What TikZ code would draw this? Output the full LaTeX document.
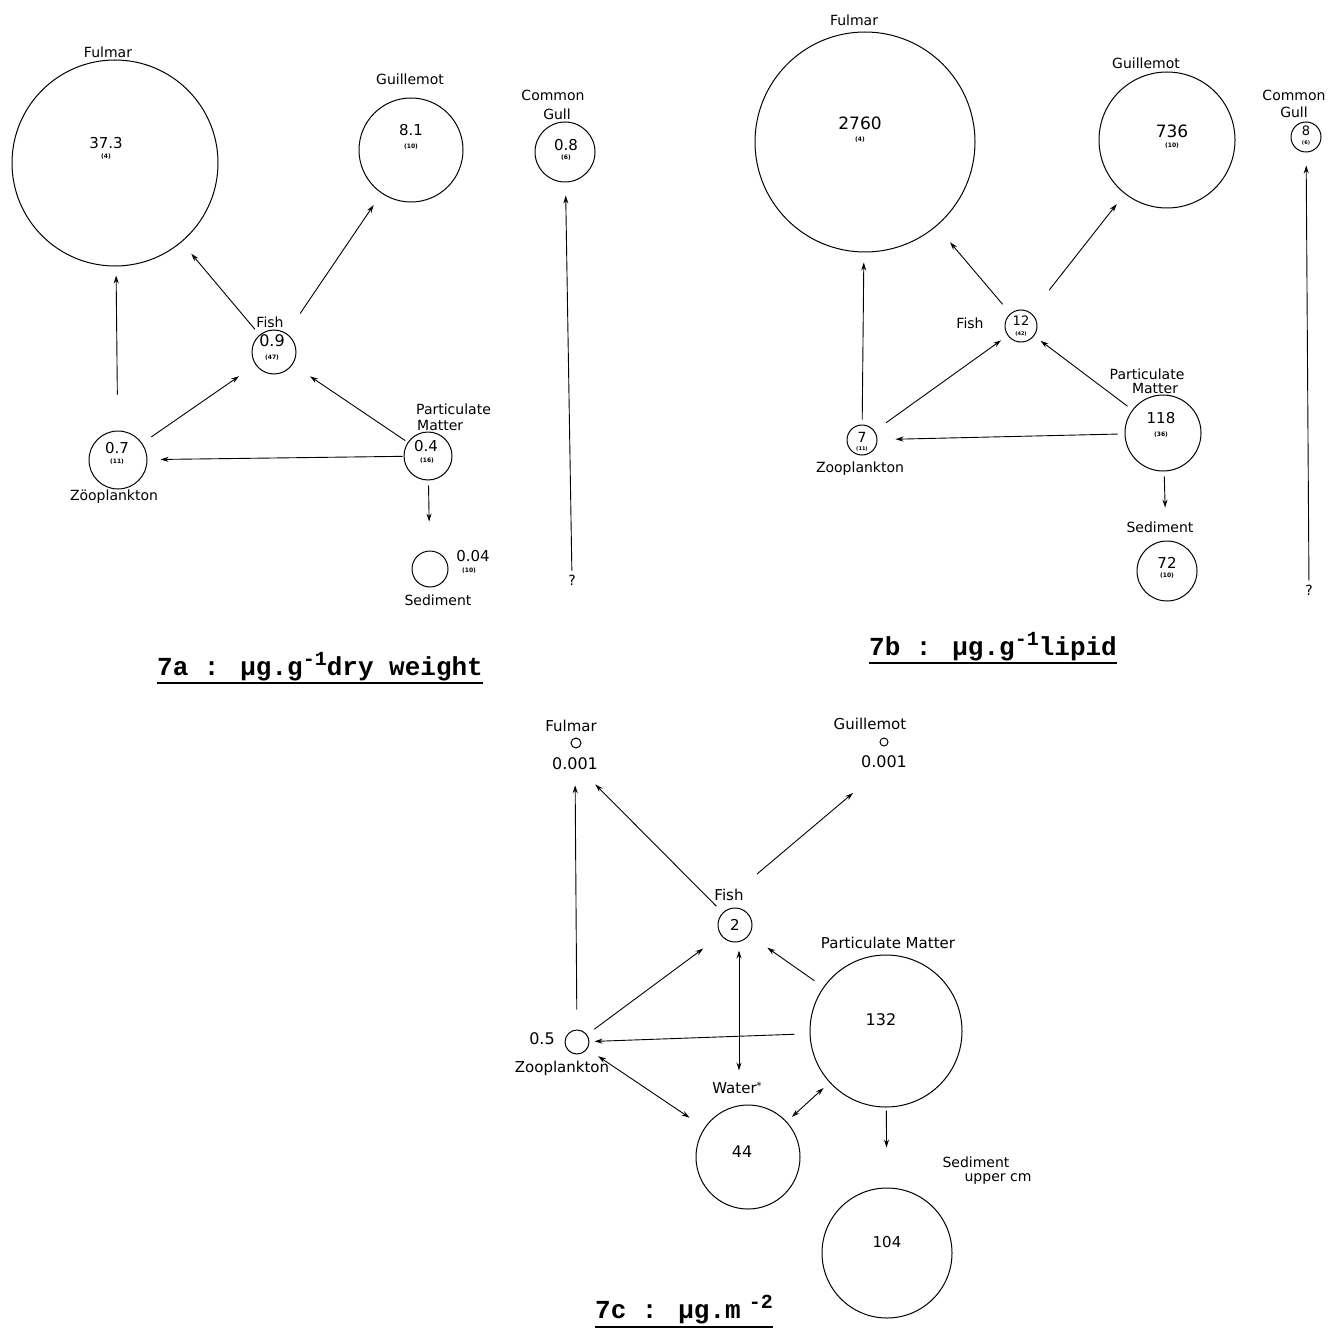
\documentclass[tikz,border=0pt]{standalone}
\usepackage{fontspec}
\setmainfont{DejaVu Sans}
\newfontfamily\titlefont{Liberation Mono}
\usetikzlibrary{arrows.meta,calc}
\tikzset{
  circ/.style={draw, circle, line width=1pt, inner sep=0pt, minimum size=#1},
  lbl/.style={font=\fontsize{14}{14}\selectfont, inner sep=0pt},
  lblc/.style={font=\fontsize{15}{15}\selectfont, inner sep=0pt},
  num/.style={font=\fontsize{15}{15}\selectfont, inner sep=0pt},
  cnt/.style={font=\fontsize{6}{6}\selectfont\bfseries, inner sep=0pt},
  ttl/.style={font=\titlefont\bfseries\fontsize{26}{26}\selectfont, inner sep=0pt, anchor=base},
  uline/.style={line width=2pt},
  arr/.style={-{Stealth[length=8pt,width=5pt]}, line width=0.9pt},
  darr/.style={{Stealth[length=8pt,width=5pt]}-{Stealth[length=8pt,width=5pt]}, line width=0.9pt}
}
\newcommand{\supx}[1]{\raisebox{10pt}{\fontsize{20}{20}\selectfont #1}}
\begin{document}
\begin{tikzpicture}[x=1pt,y=-1pt]
\fill[white] (0,0) rectangle (1328,1332);
\useasboundingbox (0,0) rectangle (1328,1332);

% ================= 7a =================
\node[circ=206pt] (ful7a) at (115,163) {};
\node[circ=104pt] (gui7a) at (411,150) {};
\node[circ=60pt]  (gull7a) at (565,152) {};
\node[circ=44pt]  (fish7a) at (274,352) {};
\node[circ=58pt]  (zoo7a) at (118,460) {};
\node[circ=48pt]  (pm7a) at (428,456) {};
\node[circ=36pt]  (sed7a) at (430,569) {};
\node[lbl] (q7a) at (572,580) {?};

\node[lbl] (ful7aL) at (108,52) {Fulmar};
\node[num] (ful7aN) at (106,143) {37.3};
\node[cnt] (ful7aC) at (106,157) {(4)};
\node[lbl] (gui7aL) at (410,79) {Guillemot};
\node[num] (gui7aN) at (411,130) {8.1};
\node[cnt] (gui7aC) at (411,147) {(10)};
\node[lbl] (gull7aL1) at (553,95) {Common};
\node[lbl] (gull7aL2) at (557,114) {Gull};
\node[num] (gull7aN) at (566,145) {0.8};
\node[cnt] (gull7aC) at (566,158) {(6)};
\node[lbl] (fish7aL) at (270,322) {Fish};
\node[num,font=\fontsize{16}{16}\selectfont] (fish7aN) at (272,341) {0.9};
\node[cnt] (fish7aC) at (272,358) {(47)};
\node[num] (zoo7aN) at (117,448) {0.7};
\node[cnt] (zoo7aC) at (117,462) {(11)};
\node[lbl] (zoo7aL) at (114,497) {Zöoplankton};
\node[lbl,anchor=west] (pm7aL1) at (416,409) {Particulate};
\node[lbl,anchor=west] (pm7aL2) at (417,425) {Matter};
\node[num] (pm7aN) at (426,446) {0.4};
\node[cnt] (pm7aC) at (427,461) {(16)};
\node[num] (sed7aN) at (473,556) {0.04};
\node[cnt] (sed7aC) at (469,571) {(10)};
\node[lbl] (sed7aL) at (438,600) {Sediment};

\draw[arr, shorten <=36pt, shorten >=9pt] (zoo7a) -- (ful7a);
\draw[arr, shorten <=11pt, shorten >=20pt] (zoo7a) -- (fish7a);
\draw[arr, shorten <=3pt, shorten >=21pt] (pm7a) -- (fish7a);
\draw[arr, shorten <=1pt, shorten >=13pt] (pm7a) -- (zoo7a);
\draw[arr, shorten <=5pt, shorten >=29pt] (pm7a) -- (sed7a);
\draw[arr, shorten <=7pt, shorten >=15pt] (fish7a) -- (ful7a);
\draw[arr, shorten <=24pt, shorten >=14pt] (fish7a) -- (gui7a);
\draw[arr, shorten <=4pt, shorten >=13pt] (q7a) -- (gull7a);

\node[ttl] (t7a) at (320,675) {7a : µg.g\supx{-1}dry weight};
\draw[uline] ($(t7a.base west)+(0,8)$) -- ($(t7a.base east)+(0,8)$);

% ================= 7b =================
\node[circ=220pt] (ful7b) at (865,142) {};
\node[circ=136pt] (gui7b) at (1167,140) {};
\node[circ=30pt]  (gull7b) at (1306,137) {};
\node[circ=32pt]  (fish7b) at (1021,326) {};
\node[circ=30pt]  (zoo7b) at (862,440) {};
\node[circ=76pt]  (pm7b) at (1163,433) {};
\node[circ=60pt]  (sed7b) at (1167,571) {};
\node[lbl] (q7b) at (1309,590) {?};

\node[lbl] (ful7bL) at (854,20) {Fulmar};
\node[num,font=\fontsize{17}{17}\selectfont] (ful7bN) at (860,123) {2760};
\node[cnt] (ful7bC) at (860,140) {(4)};
\node[lbl] (gui7bL) at (1146,63) {Guillemot};
\node[num,font=\fontsize{17}{17}\selectfont] (gui7bN) at (1172,131) {736};
\node[cnt] (gui7bC) at (1172,146) {(10)};
\node[lbl] (gull7bL1) at (1294,95) {Common};
\node[lbl] (gull7bL2) at (1294,112) {Gull};
\node[num,font=\fontsize{13}{13}\selectfont] (gull7bN) at (1306,131) {8};
\node[cnt,font=\fontsize{5}{5}\selectfont\bfseries] (gull7bC) at (1306,143) {(6)};
\node[lbl] (fish7bL) at (970,323) {Fish};
\node[num,font=\fontsize{13}{13}\selectfont] (fish7bN) at (1021,321) {12};
\node[cnt,font=\fontsize{5}{5}\selectfont\bfseries] (fish7bC) at (1021,334) {(42)};
\node[lbl] (pm7bL1) at (1147,374) {Particulate};
\node[lbl] (pm7bL2) at (1155,388) {Matter};
\node[num] (pm7bN) at (1161,418) {118};
\node[cnt] (pm7bC) at (1161,435) {(36)};
\node[num,font=\fontsize{14}{14}\selectfont] (zoo7bN) at (862,437) {7};
\node[cnt,font=\fontsize{5}{5}\selectfont\bfseries] (zoo7bC) at (862,449) {(11)};
\node[lbl] (zoo7bL) at (860,469) {Zooplankton};
\node[lbl] (sed7bL) at (1160,527) {Sediment};
\node[num] (sed7bN) at (1167,563) {72};
\node[cnt] (sed7bC) at (1167,576) {(10)};

\draw[arr, shorten <=5pt, shorten >=10pt] (zoo7b) -- (ful7b);
\draw[arr, shorten <=14pt, shorten >=8pt] (zoo7b) -- (fish7b);
\draw[arr, shorten <=6pt, shorten >=8pt] (pm7b) -- (fish7b);
\draw[arr, shorten <=7pt, shorten >=18pt] (pm7b) -- (zoo7b);
\draw[arr, shorten <=12pt, shorten >=21pt] (fish7b) -- (ful7b);
\draw[arr, shorten <=29pt, shorten >=13pt] (fish7b) -- (gui7b);
\draw[arr, shorten <=5pt, shorten >=33pt] (pm7b) -- (sed7b);
\draw[arr, shorten <=4pt, shorten >=13pt] (q7b) -- (gull7b);

\node[ttl] (t7b) at (993,655) {7b : µg.g\supx{-1}lipid};
\draw[uline] ($(t7b.base west)+(0,8)$) -- ($(t7b.base east)+(0,8)$);

% ================= 7c =================
\node[circ=10pt]  (ful7c) at (576,743) {};
\node[circ=8pt]   (gui7c) at (884,742) {};
\node[circ=34pt]  (fish7c) at (735,925) {};
\node[circ=152pt] (pm7c) at (886,1031) {};
\node[circ=24pt]  (zoo7c) at (577,1042) {};
\node[circ=104pt] (wat7c) at (748,1157) {};
\node[circ=130pt] (sed7c) at (887,1253) {};

\node[lblc] (ful7cL) at (571,726) {Fulmar};
\node[num,font=\fontsize{16}{16}\selectfont] (ful7cN) at (575,764) {0.001};
\node[lblc] (gui7cL) at (870,724) {Guillemot};
\node[num,font=\fontsize{16}{16}\selectfont] (gui7cN) at (884,762) {0.001};
\node[lblc] (fish7cL) at (729,895) {Fish};
\node[num] (fish7cN) at (735,925) {2};
\node[lblc] (pm7cL) at (888,943) {Particulate Matter};
\node[num,font=\fontsize{16}{16}\selectfont] (pm7cN) at (881,1020) {132};
\node[num,font=\fontsize{16}{16}\selectfont] (zoo7cN) at (542,1039) {0.5};
\node[lblc] (zoo7cL) at (562,1068) {Zooplankton};
\node[lblc] (wat7cL) at (737,1088) {Water\raisebox{4pt}{\fontsize{10}{10}\selectfont *}};
\node[num,font=\fontsize{16}{16}\selectfont] (wat7cN) at (742,1152) {44};
\node[lbl] (sed7cL1) at (976,1162) {Sediment};
\node[lbl] (sed7cL2) at (998,1179) {upper cm};
\node[num] (sed7cN) at (887,1242) {104};

\coordinate (fg7cA) at (757,874);
\coordinate (fg7cB) at (853,793);

\draw[arr, shorten <=20pt, shorten >=15pt] (zoo7c) -- (ful7cN);
\draw[arr, shorten <=9pt, shorten >=20pt] (fish7c) -- (ful7cN);
\draw[arr] (fg7cA) -- (fg7cB);
\draw[arr, shorten <=9pt, shorten >=22pt] (zoo7c) -- (fish7c);
\draw[arr, shorten <=11pt, shorten >=22pt] (pm7c) -- (fish7c);
\draw[arr, shorten <=15pt, shorten >=5pt] (pm7c) -- (zoo7c);
\draw[darr] ($(fish7c.south)+(4,8)$) -- ($(fish7c.south)+(4,128)$);
\draw[darr, shorten <=13pt, shorten >=18pt] (zoo7c) -- (wat7c);
\draw[darr, shorten <=8pt, shorten >=7pt] (pm7c) -- (wat7c);
\draw[arr, shorten <=3pt, shorten >=40pt] (pm7c) -- (sed7c);

\node[ttl] (t7c) at (684,1318) {7c : µg.m\hspace{8pt}\supx{-2}};
\draw[uline] ($(t7c.base west)+(0,9)$) -- ($(t7c.base east)+(0,9)$);
\end{tikzpicture}
\end{document}
